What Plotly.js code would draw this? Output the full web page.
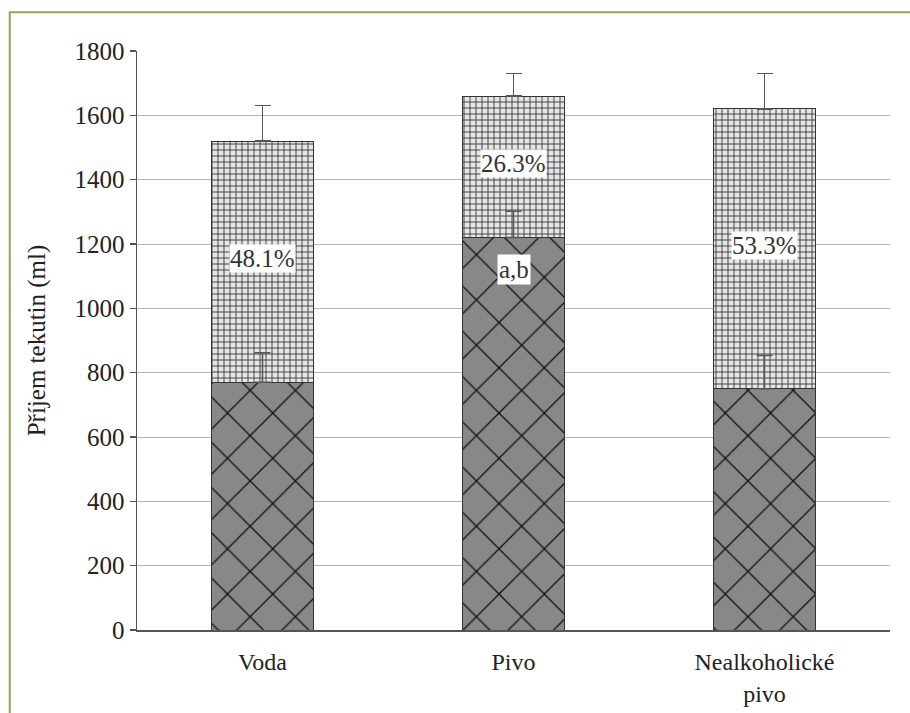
<!DOCTYPE html>
<html>
<head>
<meta charset="utf-8">
<script src="https://cdn.plot.ly/plotly-3.0.1.min.js"></script>
<style>
  html, body { margin: 0; padding: 0; background: #fff; }
  #chart { width: 910px; height: 713px; }
</style>
</head>
<body>
<div id="chart"></div>
<script>
// Fluid intake by drink type (ml): bottom segment and total per group
const categories = ['Voda', 'Pivo', 'Nealkoholické<br>pivo'];
const baseIntake = [770, 1220, 750];
const totalIntake = [1520, 1660, 1620];
const baseError = [92, 82, 103];
const totalError = [110, 70, 110];
const shareLabels = ['48.1%', '26.3%', '53.3%'];
const markLabels = ['', 'a,b', ''];
const yTicks = [0, 200, 400, 600, 800, 1000, 1200, 1400, 1600, 1800];

const upperIntake = totalIntake.map((t, i) => t - baseIntake[i]);
const serif = 'Liberation Serif';

const lowerTrace = {
  type: 'bar',
  x: categories,
  y: baseIntake,
  marker: {
    color: '#888',
    line: { color: '#333', width: 1 },
    pattern: { shape: 'x', fgcolor: '#111', bgcolor: '#888', size: 32, solidity: 0.08 }
  },
  hoverinfo: 'skip'
};

const upperTrace = {
  type: 'bar',
  x: categories,
  y: upperIntake,
  marker: {
    color: '#dcdcdc',
    line: { color: '#333', width: 1 },
    pattern: { shape: '+', fgcolor: '#444', bgcolor: '#e6e6e6', size: 6, solidity: 0.3 }
  },
  error_y: {
    type: 'data', symmetric: false,
    array: totalError, arrayminus: totalError.map(() => 0),
    color: '#555', thickness: 1.5, width: 8
  },
  hoverinfo: 'skip'
};

// Error bars for the lower segment, drawn above both bar layers
const lowerErrors = {
  type: 'scatter',
  mode: 'markers',
  x: categories,
  y: baseIntake,
  marker: { size: 1, color: 'rgba(0,0,0,0)' },
  error_y: {
    type: 'data', symmetric: false,
    array: baseError, arrayminus: baseError.map(() => 0),
    color: '#555', thickness: 1.5, width: 8
  },
  hoverinfo: 'skip'
};

const annotations = [];
categories.forEach((c, i) => {
  annotations.push({
    x: c, y: (baseIntake[i] + totalIntake[i]) / 2 + 10,
    xref: 'x', yref: 'y', text: shareLabels[i], showarrow: false,
    font: { family: serif, size: 25, color: '#333' },
    bgcolor: '#fff', borderpad: 0
  });
  if (markLabels[i]) {
    annotations.push({
      x: c, y: baseIntake[i] - 100,
      xref: 'x', yref: 'y', text: markLabels[i], showarrow: false,
      font: { family: serif, size: 25, color: '#333' },
      bgcolor: '#fff', borderpad: 1
    });
  }
});

const layout = {
  width: 910, height: 713,
  margin: { l: 137, r: 20, t: 51, b: 83 },
  paper_bgcolor: '#fff', plot_bgcolor: '#fff',
  barmode: 'stack',
  bargap: 0.59,
  showlegend: false,
  font: { family: serif },
  xaxis: {
    type: 'category',
    showline: true, linecolor: '#555', linewidth: 1.5,
    ticks: '', showgrid: false,
    ticklabelstandoff: 10,
    tickfont: { family: serif, size: 24, color: '#222' }
  },
  yaxis: {
    range: [0, 1800],
    tickvals: yTicks,
    showline: true, linecolor: '#555', linewidth: 1.5,
    ticks: 'outside', ticklen: 6, tickcolor: '#555', tickwidth: 1.5,
    showgrid: true, gridcolor: '#b4b4b4', gridwidth: 1,
    zeroline: false,
    tickfont: { family: serif, size: 25, color: '#222' },
    title: { text: 'Příjem tekutin (ml)', font: { family: serif, size: 25, color: '#222' }, standoff: 22 }
  },
  annotations: annotations,
  shapes: [{
    type: 'path', xref: 'paper', yref: 'paper',
    path: 'M -0.169 -0.2 L -0.169 1.067 L 1.03 1.067',
    line: { color: '#a89a5a', width: 2 }
  }]
};

Plotly.newPlot('chart', [lowerTrace, upperTrace, lowerErrors], layout, { staticPlot: true });
</script>
</body>
</html>
